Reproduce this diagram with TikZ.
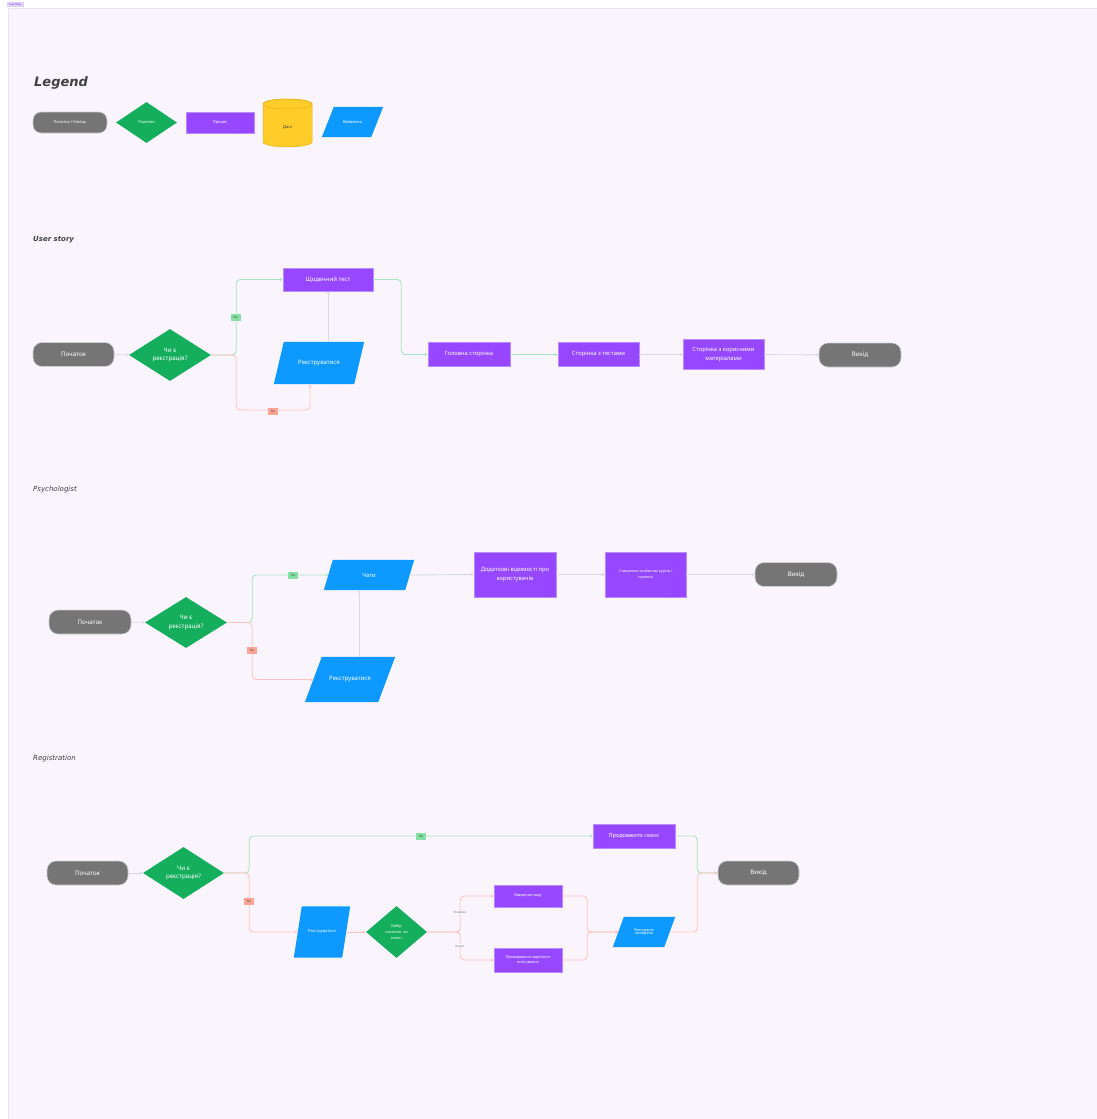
\documentclass[tikz,border=0pt]{standalone}
\usepackage{fontspec}
\setmainfont{Noto Sans}
\newfontfamily\handfont{DejaVu Sans}
\usetikzlibrary{shapes.geometric,arrows.meta,calc}
\definecolor{cbg}{HTML}{FAF5FD}
\definecolor{cfrm}{HTML}{E9E5EE}
\definecolor{cterm}{HTML}{757575}
\definecolor{ctermb}{HTML}{CFCFD4}
\definecolor{cdec}{HTML}{14AE5C}
\definecolor{cproc}{HTML}{9747FF}
\definecolor{cprocb}{HTML}{B88CFF}
\definecolor{cinp}{HTML}{0D99FF}
\definecolor{cdat}{HTML}{FFCD29}
\definecolor{cdatb}{HTML}{E5B318}
\definecolor{lgreen}{HTML}{A8E4C0}
\definecolor{lred}{HTML}{FFC4BC}
\definecolor{lgray}{HTML}{D8D8DE}
\definecolor{cyes}{HTML}{85E0A3}
\definecolor{cno}{HTML}{FFA494}
\definecolor{ctag}{HTML}{E2D0FF}
\pgfdeclarelayer{bg}
\pgfsetlayers{bg,main}
\tikzset{
  termbox/.style={rectangle, rounded corners=9pt, fill=cterm, draw=ctermb, line width=0.6pt, text=white, inner sep=0pt, align=center},
  procbox/.style={rectangle, fill=cproc, draw=cprocb, line width=0.5pt, text=white, inner sep=0pt, align=center},
  decbox/.style={diamond, fill=cdec, text=white, inner sep=0pt, align=center},
  parabox/.style={rectangle, text=white, inner sep=0pt, align=center},
  yeslab/.style={fill=cyes, text=black!70, font=\fontsize{3.2}{3.2}\selectfont, inner sep=0pt, minimum width=10pt, minimum height=7pt},
  nolab/.style={fill=cno, text=black!70, font=\fontsize{3.2}{3.2}\selectfont, inner sep=0pt, minimum width=10pt, minimum height=7pt},
  brlab/.style={fill=cbg, text=black!60, font=\fontsize{2.8}{2.8}\selectfont, inner sep=0.5pt},
  gline/.style={draw=lgreen, line width=0.9pt, rounded corners=4pt, -{Stealth[length=3pt,width=3pt]}},
  rline/.style={draw=lred, line width=0.9pt, rounded corners=4pt, -{Stealth[length=3pt,width=3pt]}},
  kline/.style={draw=lgray, line width=0.9pt, rounded corners=4pt, -{Stealth[length=3pt,width=3pt]}},
  ttl/.style={anchor=base west, inner sep=0pt, text=black!75}
}
% name, cx, cy, w, h, slant, font size, text
\newcommand\mypara[8]{%
  \node[parabox, minimum width=#4pt, minimum height=#5pt, font=\fontsize{#7}{#7}\selectfont] (#1) at (#2,#3) {#8};
  \begin{pgfonlayer}{bg}
    \fill[cinp] (#1.south west) -- ([xshift=#6pt]#1.north west) -- (#1.north east) -- ([xshift=-#6pt]#1.south east) -- cycle;
  \end{pgfonlayer}}
\begin{document}
\begin{tikzpicture}[x=1pt,y=-1pt]
\useasboundingbox (0,0) rectangle (1097,1119);
\begin{pgfonlayer}{bg}
  \fill[white] (0,0) rectangle (1097,1119);
  \filldraw[fill=cbg, draw=cfrm, line width=0.6pt] (8,8) rectangle (1097,1119);
\end{pgfonlayer}
\node[fill=ctag, text=cproc!70!black, font=\fontsize{2.6}{2.6}\selectfont, inner sep=0.6pt, minimum width=17pt, minimum height=4.5pt] (tag) at (15,4.5) {user flow};

% ---------------- Legend ----------------
\node[ttl, font=\handfont\bfseries\itshape\fontsize{13}{13}\selectfont] (tlegend) at (34,86) {Legend};
\node[termbox, minimum width=74pt, minimum height=21pt, rounded corners=8pt, font=\fontsize{4}{4}\selectfont] (lterm) at (70,122.5) {Початок / Кінець};
\node[decbox, minimum width=61pt, minimum height=41pt, font=\fontsize{4}{4}\selectfont] (ldec) at (146.5,122.5) {Рішення};
\node[procbox, minimum width=68pt, minimum height=21pt, font=\fontsize{4}{4}\selectfont] (lproc) at (220,122.5) {Процес};
\node[inner sep=0pt, minimum width=49pt, minimum height=48pt, text=black!80, font=\fontsize{4}{4}\selectfont] (ldat) at (287.5,127) {Дані};
\begin{pgfonlayer}{bg}
  \filldraw[fill=cdat, draw=cdatb, line width=0.5pt] (263,104) -- (263,142) arc[start angle=180, end angle=360, x radius=24.5pt, y radius=5pt] -- (312,104) arc[start angle=0, end angle=180, x radius=24.5pt, y radius=5pt] -- cycle;
  \draw[cdatb, line width=0.5pt] (287.5,104) ellipse[x radius=24.5pt, y radius=5pt];
\end{pgfonlayer}
\mypara{linp}{352.5}{122}{61}{30}{12}{4}{Введення}

% ---------------- User story ----------------
\node[ttl, font=\handfont\bfseries\itshape\fontsize{7}{7}\selectfont] (tus) at (33,241) {User story};
\node[termbox, minimum width=81pt, minimum height=24pt, font=\fontsize{6.2}{6.2}\selectfont] (us1) at (73.5,354.5) {Початок};
\node[decbox, minimum width=82pt, minimum height=52pt, font=\fontsize{6.2}{8.5}\selectfont] (us2) at (170,355) {Чи є\\реєстрація?};
\node[procbox, minimum width=90pt, minimum height=23pt, font=\fontsize{6}{6}\selectfont] (us3) at (328,279.5) {Щоденний тест};
\mypara{us4}{319}{363}{90}{42}{10}{6}{Реєструватися}
\node[procbox, minimum width=82pt, minimum height=24pt, font=\fontsize{5.8}{5.8}\selectfont] (us5) at (469,354.5) {Головна сторінка};
\node[procbox, minimum width=81pt, minimum height=24pt, font=\fontsize{5.8}{5.8}\selectfont] (us6) at (598.5,354.5) {Сторінка з тестами};
\node[procbox, minimum width=81pt, minimum height=30pt, font=\fontsize{5.8}{8.5}\selectfont] (us7) at (723.5,354.5) {Сторінка з корисними\\матеріалами};
\node[termbox, minimum width=82pt, minimum height=24pt, font=\fontsize{6.2}{6.2}\selectfont] (us8) at (860,355) {Вихід};

\draw[kline] (us1) -- (us2);
\draw[gline] (us2.east) -- ++(25,0) |- (us3.west);
\draw[rline] (us2.east) -- ++(25,0) -- ++(0,55) -| ([xshift=-9pt]us4.south);
\draw[kline] ([xshift=9pt]us4.north) -- (us3.south);
\draw[gline] (us3.east) -- ++(28,0) |- (us5.west);
\draw[gline] (us5) -- (us6);
\draw[kline] (us6) -- (us7);
\draw[kline] (us7) -- (us8);
\node[yeslab] (usy) at (235.5,317.5) {Yes};
\node[nolab] (usn) at (273,411) {No};

% ---------------- Psychologist ----------------
\node[ttl, font=\handfont\itshape\fontsize{7}{7}\selectfont] (tps) at (33,491) {Psychologist};
\node[termbox, minimum width=82pt, minimum height=24pt, font=\fontsize{6.2}{6.2}\selectfont] (ps1) at (90,622) {Початок};
\node[decbox, minimum width=82pt, minimum height=51pt, font=\fontsize{6.2}{8.5}\selectfont] (ps2) at (186,622.5) {Чи є\\реєстрація?};
\mypara{ps3}{369}{575}{90}{30}{9}{5.8}{Чати}
\mypara{ps4}{350}{679.5}{90}{45}{17}{6}{Реєструватися}
\node[procbox, minimum width=82pt, minimum height=45pt, font=\fontsize{5.8}{8.5}\selectfont] (ps5) at (515,574.5) {Додаткові відомості про\\користувачів};
\node[procbox, minimum width=81pt, minimum height=45pt, font=\fontsize{3.7}{5.5}\selectfont] (ps6) at (645.5,574.5) {Створення особистих курсів і\\практик};
\node[termbox, minimum width=82pt, minimum height=24pt, font=\fontsize{6.2}{6.2}\selectfont] (ps7) at (796,574.5) {Вихід};

\draw[kline] (ps1) -- (ps2);
\draw[gline] (ps2.east) -- ++(25,0) |- ([xshift=4.5pt]ps3.west);
\draw[rline] (ps2.east) -- ++(25,0) |- ([xshift=8.5pt]ps4.west);
\draw[kline] ([xshift=9pt]ps4.north) -- ([xshift=-10pt]ps3.south);
\draw[kline] ([xshift=-4.5pt]ps3.east) -- (ps5.west);
\draw[kline] (ps5) -- (ps6);
\draw[kline] (ps6) -- (ps7);
\node[yeslab] (psy) at (293,575) {Yes};
\node[nolab] (psn) at (252,650) {No};

% ---------------- Registration ----------------
\node[ttl, font=\handfont\itshape\fontsize{7}{7}\selectfont] (trg) at (33,760) {Registration};
\node[termbox, minimum width=81pt, minimum height=24pt, font=\fontsize{6.2}{6.2}\selectfont] (rg1) at (87.5,873) {Початок};
\node[decbox, minimum width=81pt, minimum height=52pt, font=\fontsize{6.2}{8.5}\selectfont] (rg2) at (183.5,873) {Чи є\\реєстрація?};
\node[procbox, minimum width=82pt, minimum height=24pt, font=\fontsize{5.6}{5.6}\selectfont] (rg3) at (634,836) {Продовжити сеанс};
\mypara{rg4}{322}{932}{56}{51}{8}{4}{Реєструватися}
\node[decbox, minimum width=61pt, minimum height=52pt, font=\fontsize{3.8}{5.6}\selectfont] (rg5) at (396.5,932) {Вибір\\психолог чи\\клієнт};
\node[procbox, minimum width=68pt, minimum height=22pt, font=\fontsize{3.8}{3.8}\selectfont] (rg6) at (528,896) {Введення коду};
\node[procbox, minimum width=68pt, minimum height=24pt, font=\fontsize{3.8}{5.8}\selectfont] (rg7) at (528,960) {Проходження короткого\\опитування};
\mypara{rg8}{644}{932}{62}{30}{11}{3.8}{Реєстрація\\пройдена}
\node[termbox, minimum width=81pt, minimum height=24pt, font=\fontsize{6.2}{6.2}\selectfont] (rg9) at (758.5,873) {Вихід};

\draw[kline] (rg1) -- (rg2);
\draw[gline] (rg2.east) -- ++(25,0) |- (rg3.west);
\draw[rline] (rg2.east) -- ++(25,0) |- ([xshift=4pt]rg4.west);
\draw[rline] ([xshift=-4pt]rg4.east) -- (rg5.west);
\draw[rline] (rg5.east) -- ++(33,0) |- (rg6.west);
\draw[rline] (rg5.east) -- ++(33,0) |- (rg7.west);
\draw[rline] (rg6.east) -- ++(25,0) |- ([xshift=5.5pt]rg8.west);
\draw[rline] (rg7.east) -- ++(25,0) |- ([xshift=5.5pt]rg8.west);
\draw[gline] (rg3.east) -- ++(22,0) |- (rg9.west);
\draw[rline] ([xshift=-5.5pt]rg8.east) -- ++(27.5,0) |- (rg9.west);
\node[yeslab] (rgy) at (421,836) {Yes};
\node[nolab] (rgn) at (249,901) {No};
\node[brlab] (rgp) at (460,913) {Психолог};
\node[brlab] (rgk) at (460,946) {Клієнт};
\end{tikzpicture}
\end{document}
